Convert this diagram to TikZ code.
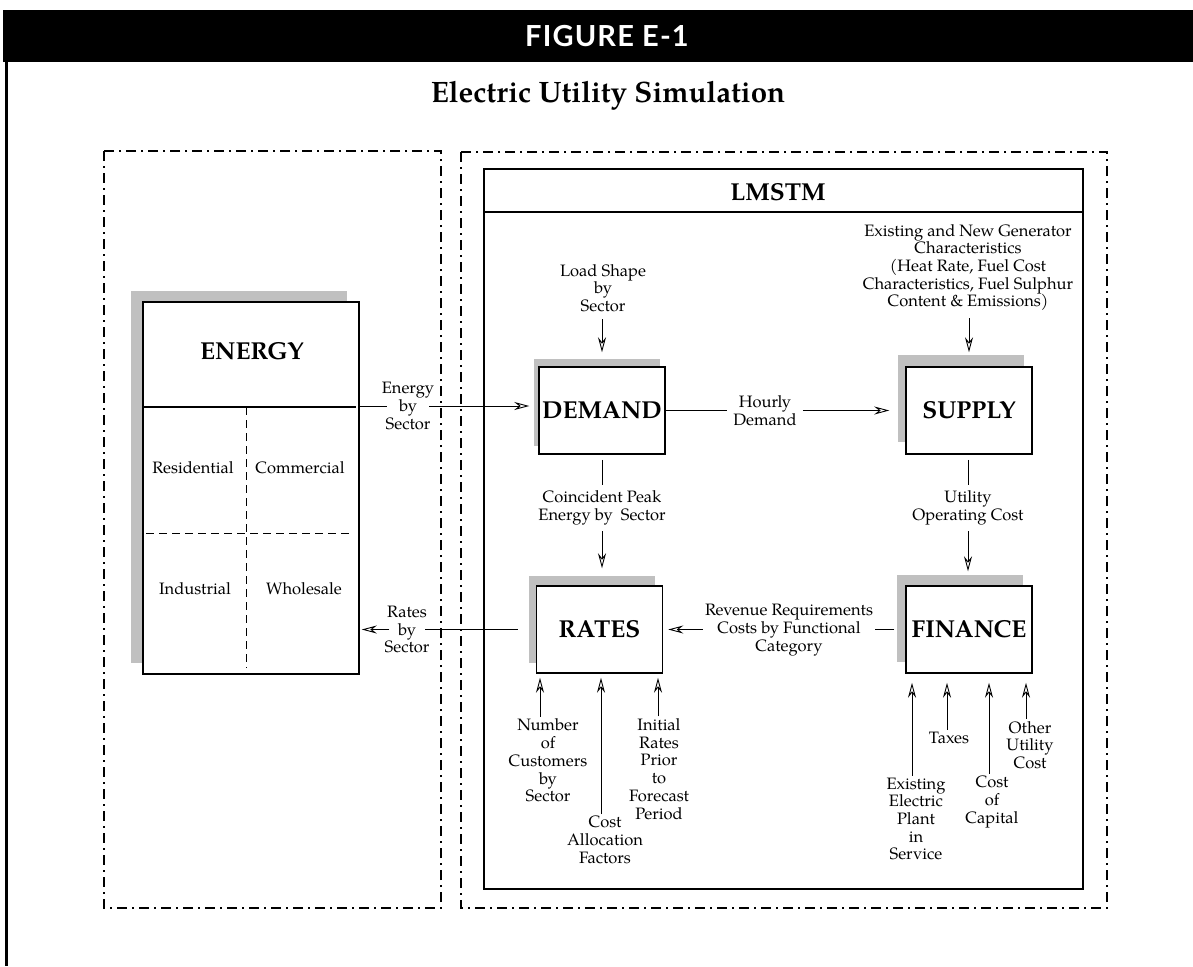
\documentclass[tikz,border=0pt]{standalone}
\usepackage{fontspec}
\setmainfont{TeX Gyre Pagella}
\newfontfamily\hdrfont{Lato}[LetterSpace=4]
\usetikzlibrary{arrows.meta,calc,shadows}

\definecolor{shade}{RGB}{192,192,192}

\tikzset{
  lbl/.style={font=\fontsize{16.5}{17.7}\selectfont, align=center, inner xsep=0pt, inner ysep=2pt},
  modbox/.style={draw, line width=1.5pt, fill=white, minimum width=126pt, minimum height=87pt,
    inner sep=0pt, font=\fontsize{24.5}{28}\selectfont\bfseries},
  offshade/.style 2 args={general shadow={shadow xshift=#1, shadow yshift=#2, fill=shade}},
  flow/.style={line width=0.9pt},
  arr/.style={flow, -{Stealth[open, length=15pt, width=8pt, inset=5pt]}},
  zone/.style={line width=1.1pt, dash pattern=on 10pt off 5pt on 2pt off 5pt},
  cell/.style={line width=1pt, dash pattern=on 8pt off 5pt},
}

\begin{document}
\begin{tikzpicture}[x=1pt, y=-1pt]
\useasboundingbox (0,0) rectangle (1193,966);

% page heading band and margin rule
\fill[black] (3,10) rectangle (1193,62);
\node[text=white, font=\hdrfont\bfseries\fontsize{29}{32}\selectfont] (fig) at (607,36) {FIGURE E-1};
\draw[line width=3pt] (6,61) -- (6,966);
\node[font=\fontsize{29.5}{32}\selectfont\bfseries] (title) at (608,96) {Electric Utility Simulation};

% model boundaries
\draw[zone] (104,151) rectangle (441,908);
\draw[zone] (461,152) rectangle (1107,908);
\node[draw, line width=1.4pt, minimum width=599pt, minimum height=720pt, inner sep=0pt] (lm) at (783.5,529) {};
\coordinate (lmrule) at (783.5,212);
\draw[line width=1.2pt] (lmrule -| lm.west) -- (lmrule -| lm.east);
\node[font=\fontsize{24.5}{28}\selectfont\bfseries] (lmt) at (778,192) {LMSTM};

% energy demand model with its four sectors
\node[modbox, offshade={-12pt}{11pt}, minimum width=216pt, minimum height=372pt] (en) at (251,488) {};
\node[font=\fontsize{24.5}{28}\selectfont\bfseries] (ent) at (252,351) {ENERGY};
\coordinate (ensplit) at (251,407);
\coordinate (enmid) at (251,533);
\coordinate (encol) at (246,407);
\draw[line width=1.2pt, shorten <=2pt, shorten >=4pt] (ensplit -| en.west) -- (ensplit -| en.east);
\draw[cell, shorten <=4pt, shorten >=6pt] (enmid -| en.west) -- (enmid -| en.east);
\draw[cell, shorten >=7pt] (encol) -- (encol |- en.south);
\node[lbl] (res) at (193,468) {Residential};
\node[lbl] (com) at (300,468) {Commercial};
\node[lbl] (ind) at (195,589) {Industrial};
\node[lbl] (who) at (304,589) {Wholesale};

% LMSTM modules
\node[modbox, offshade={-5pt}{8pt}] (dem) at (602,410.5) {DEMAND};
\node[modbox, offshade={-8pt}{12pt}] (sup) at (969,410.5) {SUPPLY};
\node[modbox, offshade={-8pt}{10pt}] (rat) at (599.5,629.5) {RATES};
\node[modbox, offshade={-9pt}{11pt}] (fin) at (969,629.5) {FINANCE};

% flow labels
\node[lbl, inner xsep=-5pt] (ebs) at (408,406) {Energy\\by\\Sector};
\node[lbl, inner xsep=-5pt] (rbs) at (407,629.5) {Rates\\by\\Sector};
\node[lbl, inner xsep=6pt] (hd) at (765,410.5) {Hourly\\Demand};
\node[lbl] (lsh) at (603,288) {Load Shape\\by\\Sector};
\node[lbl] (gen) at (968,267.5) {Existing and New Generator\\Characteristics\\(Heat Rate, Fuel Cost\\Characteristics, Fuel Sulphur\\Content \& Emissions)};
\node[lbl, inner ysep=6pt] (cpe) at (602,508) {Coincident Peak\\Energy by\ \ Sector};
\node[lbl, inner ysep=6pt] (uoc) at (968,508) {Utility\\Operating Cost};
\node[lbl, inner xsep=2pt] (rev) at (789,630) {Revenue Requirements\\Costs by Functional\\Category};

% inputs to RATES
\node[lbl] (noc) at (548,760.5) {Number\\of\\Customers\\by\\Sector};
\node[lbl] (caf) at (605,840) {Cost\\Allocation\\Factors};
\node[lbl] (irp) at (659,769) {Initial\\Rates\\Prior\\to\\Forecast\\Period};

% inputs to FINANCE
\node[lbl] (eep) at (916,819) {Existing\\Electric\\Plant\\in\\Service};
\node[lbl] (tax) at (949,738) {Taxes};
\node[lbl] (coc) at (992,802) {Cost\\of\\Capital};
\node[lbl] (ouc) at (1030,745) {Other\\Utility\\Cost};

% connectors
\draw[flow] (en.east |- ebs) -- (ebs.west);
\draw[arr, shorten >=9pt] (ebs.east) -- (ebs -| dem.west);
\draw[flow] (dem.east) -- (hd.west);
\draw[arr, shorten >=16pt] (hd.east) -- (hd -| sup.west);
\draw[arr, shorten <=5pt, shorten >=14pt] (dem.north |- lsh.south) -- (dem.north);
\draw[arr, shorten <=5pt, shorten >=14pt] (sup.north |- gen.south) -- (sup.north);
\draw[flow, shorten <=5pt] (cpe.north |- dem.south) -- (cpe.north);
\draw[arr, shorten >=17pt] (cpe.south) -- (cpe.south |- rat.north);
\draw[flow, shorten <=5pt] (uoc.north |- sup.south) -- (uoc.north);
\draw[arr, shorten >=14pt] (uoc.south) -- (uoc.south |- fin.north);
\draw[flow, shorten <=11pt] (fin.west) -- (fin.west -| rev.east);
\draw[arr, shorten >=5pt] (rev.west |- rat.east) -- (rat.east);
\draw[flow, shorten <=18pt] (rat.west) -- (rat.west -| rbs.east);
\draw[arr, shorten >=2pt] (rbs.west |- rat.west) -- (en.east |- rat.west);

\draw[arr, shorten >=4pt] ([xshift=-8pt]noc.north) -- ([xshift=-8pt]noc.north |- rat.south);
\draw[arr, shorten >=4pt] ([xshift=-4pt]caf.north) -- ([xshift=-4pt]caf.north |- rat.south);
\draw[arr, shorten >=4pt] ([xshift=-1pt]irp.north) -- ([xshift=-1pt]irp.north |- rat.south);

\draw[arr, shorten >=9pt] ([xshift=-4pt]eep.north) -- ([xshift=-4pt]eep.north |- fin.south);
\draw[arr, shorten >=9pt] ([xshift=-2pt]tax.north) -- ([xshift=-2pt]tax.north |- fin.south);
\draw[arr, shorten >=9pt] ([xshift=-3pt]coc.north) -- ([xshift=-3pt]coc.north |- fin.south);
\draw[arr, shorten >=9pt] ([xshift=-4pt]ouc.north) -- ([xshift=-4pt]ouc.north |- fin.south);
\end{tikzpicture}
\end{document}
